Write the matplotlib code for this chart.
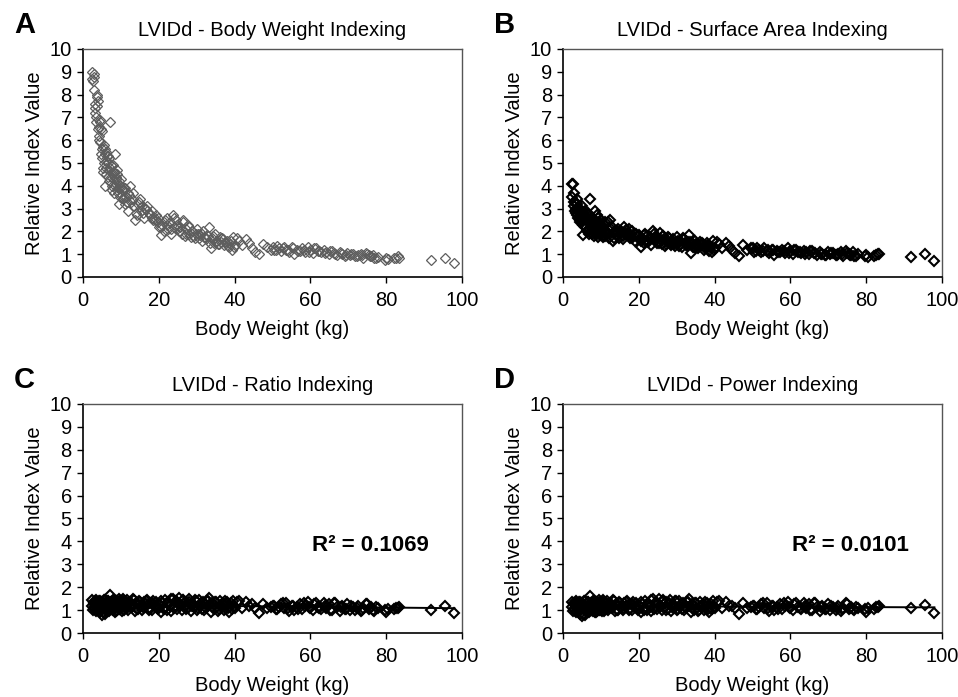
import numpy as np
import matplotlib
matplotlib.use("Agg")
from matplotlib import pyplot as plt

plt.rcParams['font.family'] = ['Liberation Sans', 'DejaVu Sans']

# body weight (kg) of each dog, shared by all four panels
WEIGHT = [
    2.3, 2.6, 2.8, 3.0, 3.1, 3.3, 3.5, 3.6, 3.8, 4.0,
    4.1, 4.3, 4.5, 4.7, 4.9, 5.0, 5.2, 5.4, 5.5, 5.7,
    5.9, 6.0, 6.2, 6.4, 6.6, 6.8, 7.0, 7.2, 7.4, 7.6,
    7.8, 8.0, 8.2, 8.4, 8.6, 8.8, 9.0, 9.2, 9.4, 9.6,
    9.8, 10.0, 10.3, 10.6, 10.9, 11.2, 11.5, 11.8, 12.1, 12.5,
    12.9, 13.3, 13.7, 14.1, 14.5, 14.9, 15.3, 15.7, 16.1, 16.5,
    16.9, 17.3, 17.7, 18.1, 18.5, 18.9, 19.3, 19.7, 20.1, 20.5,
    20.9, 21.3, 21.7, 22.1, 22.5, 22.9, 23.3, 23.7, 24.1, 24.5,
    24.9, 25.3, 25.7, 26.1, 26.5, 26.9, 27.3, 27.7, 28.1, 28.5,
    28.9, 29.3, 29.7, 30.1, 30.5, 30.9, 31.3, 31.7, 32.1, 32.5,
    32.9, 33.3, 33.7, 34.1, 34.5, 34.9, 35.3, 35.7, 36.1, 36.5,
    36.9, 37.3, 37.7, 38.1, 38.5, 38.9, 39.3, 39.7, 40.1, 40.6,
    41.2, 42.0, 43.0, 43.8, 44.5, 45.5, 46.5, 47.5, 48.5, 49.5,
    50.2, 50.9, 51.6, 52.3, 53.0, 53.7, 54.4, 55.1, 55.8, 56.5,
    57.2, 57.9, 58.6, 59.3, 60.0, 60.7, 61.4, 62.1, 62.8, 63.5,
    64.2, 64.9, 65.6, 66.3, 67.0, 67.7, 68.4, 69.1, 69.8, 70.5,
    71.2, 71.9, 72.6, 73.3, 74.0, 74.7, 75.4, 76.1, 76.8, 77.8,
    79.8, 80.0, 82.0, 83.0, 83.5, 91.8, 95.5, 98.0,
    2.5, 2.9, 3.2, 3.4, 3.7, 3.9, 4.2, 4.4, 4.6, 4.8,
    5.1, 5.3, 5.6, 5.8, 6.1, 6.3, 6.5, 6.7, 6.9, 7.1,
    7.3, 7.5, 7.7, 7.9, 8.1, 8.3, 8.5, 8.7, 8.9, 9.1,
    9.3, 9.5, 9.7, 9.9, 10.2, 10.5, 10.8, 11.1, 11.4, 11.7,
    12.0, 12.7, 13.5, 14.3, 15.1, 15.9, 16.7, 17.5, 18.3, 19.1,
    19.9, 20.7, 21.5, 22.3, 23.1, 23.9, 24.7, 25.5, 26.3, 27.1,
    27.9, 28.7, 29.5, 30.3, 31.1, 31.9, 32.7, 33.5, 34.3, 35.1,
    35.9, 36.7, 37.5, 38.3, 39.1, 39.9, 50.5, 51.3, 52.7, 54.0,
    55.4, 56.8, 58.2, 59.6, 61.0, 62.4, 63.8, 65.2, 66.6, 68.0,
    69.4, 70.8, 72.2, 73.6, 75.0, 75.7, 76.4, 77.2, 80.5, 82.5,
]

BODY_WEIGHT_IDX = [
    9.0, 8.6, 8.9, 8.75, 7.4, 7.2, 6.8, 7.9, 8.0, 7.7,
    6.0, 6.6, 6.9, 6.5, 6.4, 5.2, 5.7, 4.6, 5.8, 4.0,
    5.6, 5.5, 4.5, 5.3, 5.0, 4.7, 5.2, 6.8, 4.9, 3.8,
    4.6, 4.9, 4.3, 5.4, 4.1, 4.4, 4.7, 3.9, 4.2, 3.2,
    4.0, 4.3, 3.6, 3.8, 3.5, 3.9, 3.3, 2.9, 3.6, 4.0,
    3.4, 3.7, 2.5, 2.8, 3.2, 3.3, 2.9, 3.1, 2.6, 3.0,
    3.1, 2.8, 2.7, 2.9, 2.5, 2.6, 2.7, 2.4, 2.2, 1.85,
    2.3, 2.0, 2.5, 2.6, 2.1, 2.4, 1.9, 2.7, 2.2, 2.5,
    2.3, 2.0, 2.2, 1.9, 2.4, 1.8, 2.1, 2.3, 1.9, 1.75,
    2.0, 1.8, 1.9, 2.1, 1.7, 1.85, 1.6, 2.0, 1.75, 1.65,
    1.8, 2.2, 1.25, 1.7, 1.5, 1.9, 1.6, 1.45, 1.75, 1.55,
    1.65, 1.4, 1.5, 1.6, 1.3, 1.45, 1.2, 1.75, 1.4, 1.7,
    1.6, 1.4, 1.65, 1.5, 1.25, 1.1, 1.0, 1.45, 1.3, 1.2,
    1.3, 1.2, 1.25, 1.15, 1.3, 1.2, 1.1, 1.3, 1.0, 1.2,
    1.15, 1.25, 1.1, 1.3, 1.2, 1.05, 1.25, 1.15, 1.1, 1.2,
    1.1, 1.0, 1.15, 1.05, 0.95, 1.1, 1.0, 0.9, 1.05, 0.95,
    1.0, 0.9, 0.95, 1.0, 0.85, 1.05, 0.95, 0.9, 0.85, 0.88,
    0.75, 0.85, 0.85, 0.9, 0.85, 0.75, 0.85, 0.6,
    8.7, 8.2, 7.6, 7.0, 7.5, 6.5, 6.2, 6.8, 5.9, 5.4,
    5.6, 4.8, 5.0, 5.4, 4.8, 5.1, 4.4, 5.3, 4.2, 4.8,
    4.4, 4.9, 4.0, 4.5, 3.7, 4.6, 4.0, 4.3, 3.8, 4.5,
    3.7, 4.1, 3.5, 3.9, 3.8, 3.4, 3.9, 3.2, 3.5, 3.3,
    3.7, 3.3, 3.1, 2.7, 3.4, 2.8, 3.0, 2.8, 2.6, 2.5,
    2.6, 2.2, 2.4, 2.3, 2.1, 2.6, 2.2, 2.0, 2.5, 1.9,
    2.2, 2.0, 1.7, 1.9, 1.95, 1.75, 1.85, 1.5, 1.8, 1.6,
    1.45, 1.7, 1.55, 1.35, 1.6, 1.3, 1.2, 1.35, 1.25, 1.2,
    1.25, 1.15, 1.2, 1.1, 1.25, 1.15, 1.05, 1.15, 1.0, 1.05,
    0.95, 1.0, 0.9, 0.95, 1.0, 0.9, 0.95, 0.85, 0.8, 0.85,
]

SURFACE_AREA_IDX = [
    4.1, 4.1, 3.7, 3.1, 3.3, 3.0, 2.8, 3.4, 3.2, 2.9,
    2.6, 3.0, 2.5, 2.8, 3.1, 2.4, 2.7, 1.85, 2.3, 2.9,
    2.2, 2.6, 2.0, 2.5, 2.8, 2.1, 2.4, 3.4, 2.3, 1.9,
    2.6, 2.2, 2.5, 2.9, 2.0, 2.3, 2.7, 1.75, 2.4, 2.1,
    2.3, 2.5, 2.0, 2.2, 1.8, 2.4, 1.9, 2.1, 1.7, 2.5,
    2.2, 1.6, 2.0, 1.9, 2.1, 1.7, 2.0, 1.8, 2.2, 1.9,
    1.85, 2.1, 1.7, 2.0, 1.8, 1.6, 1.9, 1.75, 1.85, 1.3,
    1.7, 1.5, 1.9, 1.8, 1.6, 1.75, 1.4, 2.0, 1.65, 1.8,
    1.7, 1.5, 1.95, 1.45, 1.8, 1.35, 1.6, 1.75, 1.5, 1.4,
    1.65, 1.45, 1.55, 1.75, 1.35, 1.6, 1.3, 1.7, 1.5, 1.4,
    1.55, 1.85, 1.05, 1.5, 1.3, 1.6, 1.35, 1.25, 1.55, 1.4,
    1.45, 1.2, 1.35, 1.5, 1.15, 1.3, 1.1, 1.6, 1.25, 1.55,
    1.45, 1.25, 1.5, 1.35, 1.2, 1.05, 0.9, 1.4, 1.2, 1.25,
    1.25, 1.15, 1.2, 1.1, 1.25, 1.15, 1.05, 1.2, 0.95, 1.15,
    1.1, 1.2, 1.05, 1.25, 1.15, 1.0, 1.2, 1.1, 1.05, 1.15,
    1.1, 1.0, 1.15, 1.05, 0.95, 1.1, 1.0, 0.95, 1.1, 1.0,
    1.05, 0.95, 1.0, 1.1, 0.9, 1.15, 1.0, 0.95, 0.9, 1.0,
    0.9, 0.95, 0.9, 1.0, 1.0, 0.88, 1.0, 0.72,
    3.5, 3.3, 2.9, 3.2, 2.7, 2.6, 3.0, 2.4, 2.8, 2.5,
    2.9, 2.3, 2.6, 2.7, 2.2, 2.5, 2.0, 2.7, 1.9, 2.4,
    2.2, 2.6, 2.0, 2.4, 1.8, 2.5, 2.1, 2.3, 1.9, 2.6,
    2.0, 2.3, 1.85, 2.2, 2.1, 1.75, 2.3, 1.8, 2.0, 1.9,
    2.4, 2.1, 1.7, 2.0, 1.9, 1.65, 2.05, 1.85, 1.7, 1.9,
    1.8, 1.6, 1.85, 1.55, 1.7, 1.9, 1.5, 1.65, 1.8, 1.45,
    1.7, 1.5, 1.35, 1.6, 1.45, 1.65, 1.4, 1.55, 1.3, 1.45,
    1.35, 1.5, 1.25, 1.4, 1.3, 1.2, 1.1, 1.25, 1.15, 1.2,
    1.2, 1.1, 1.15, 1.05, 1.2, 1.1, 1.0, 1.15, 1.05, 1.0,
    0.95, 1.05, 0.95, 1.0, 1.05, 0.95, 1.1, 0.9, 0.88, 0.95,
]

RATIO_IDX = [
    1.45, 1.0, 1.3, 1.1, 1.4, 1.2, 0.95, 1.35, 1.15, 1.25,
    1.05, 1.4, 0.9, 1.2, 1.35, 0.8, 1.3, 1.1, 1.45, 0.85,
    1.25, 1.0, 1.35, 1.15, 1.4, 0.95, 1.2, 1.65, 1.3, 1.05,
    1.45, 1.1, 1.3, 0.9, 1.4, 1.2, 1.0, 1.35, 1.15, 1.5,
    1.05, 1.3, 0.95, 1.4, 1.2, 1.1, 1.45, 1.0, 1.25, 1.35,
    1.15, 1.5, 0.95, 1.3, 1.05, 1.4, 1.2, 1.0, 1.35, 1.25,
    1.45, 1.1, 1.3, 1.0, 1.4, 1.2, 1.35, 1.05, 1.25, 0.9,
    1.3, 1.1, 1.45, 1.0, 1.35, 1.2, 0.95, 1.5, 1.15, 1.4,
    1.05, 1.55, 1.25, 1.0, 1.45, 1.2, 1.35, 1.1, 1.5, 0.95,
    1.3, 1.15, 1.4, 1.0, 1.45, 1.2, 1.05, 1.35, 1.25, 1.1,
    1.4, 1.55, 0.9, 1.3, 1.05, 1.35, 1.15, 0.95, 1.4, 1.2,
    1.3, 1.0, 1.25, 1.35, 0.9, 1.15, 1.05, 1.4, 1.1, 1.35,
    1.4, 1.1, 1.35, 1.2, 1.25, 1.1, 0.88, 1.25, 1.1, 1.15,
    1.2, 1.05, 1.15, 1.25, 1.1, 1.3, 0.95, 1.2, 1.0, 1.15,
    1.25, 1.05, 1.2, 1.35, 1.1, 1.0, 1.3, 1.15, 1.05, 1.3,
    1.1, 1.25, 1.0, 1.3, 1.15, 0.95, 1.2, 1.05, 1.25, 1.0,
    1.15, 1.0, 1.2, 0.95, 1.1, 1.25, 1.05, 1.15, 0.95, 1.1,
    1.0, 0.92, 1.05, 1.1, 1.15, 1.0, 1.17, 0.88,
    1.2, 1.35, 1.05, 1.45, 1.15, 1.3, 1.0, 1.4, 1.1, 1.25,
    1.35, 0.9, 1.2, 1.45, 1.1, 1.3, 1.0, 1.4, 1.15, 1.25,
    1.05, 1.35, 1.2, 1.0, 1.45, 1.1, 1.3, 0.95, 1.4, 1.2,
    1.3, 1.05, 1.4, 1.15, 1.25, 1.5, 1.0, 1.35, 1.2, 1.1,
    1.3, 1.2, 1.45, 1.05, 1.35, 1.15, 1.4, 1.0, 1.3, 1.2,
    1.15, 1.4, 1.05, 1.3, 1.5, 1.1, 1.35, 1.2, 1.45, 1.05,
    1.35, 1.2, 1.45, 1.1, 1.3, 1.0, 1.4, 1.25, 1.15, 1.35,
    1.05, 1.25, 1.4, 1.1, 1.3, 1.2, 1.2, 1.05, 1.3, 1.1,
    1.2, 1.05, 1.3, 1.15, 1.25, 1.1, 1.2, 1.0, 1.3, 1.15,
    1.05, 1.2, 1.1, 1.0, 1.25, 1.1, 1.0, 1.15, 1.05, 1.1,
]

POWER_IDX = [
    1.35, 0.95, 1.25, 1.05, 1.3, 1.15, 0.9, 1.3, 1.1, 1.2,
    1.0, 1.35, 0.85, 1.15, 1.3, 0.75, 1.25, 1.05, 1.4, 0.8,
    1.2, 0.95, 1.3, 1.1, 1.35, 0.9, 1.15, 1.6, 1.25, 1.0,
    1.4, 1.05, 1.25, 0.9, 1.35, 1.15, 0.95, 1.3, 1.1, 1.45,
    1.0, 1.25, 0.95, 1.35, 1.15, 1.05, 1.4, 1.0, 1.2, 1.3,
    1.1, 1.45, 0.95, 1.25, 1.0, 1.35, 1.15, 1.0, 1.3, 1.2,
    1.4, 1.05, 1.25, 1.0, 1.35, 1.15, 1.3, 1.0, 1.2, 0.9,
    1.25, 1.05, 1.4, 1.0, 1.3, 1.15, 0.95, 1.5, 1.1, 1.35,
    1.05, 1.5, 1.2, 1.0, 1.45, 1.15, 1.35, 1.05, 1.45, 0.95,
    1.25, 1.1, 1.4, 1.0, 1.4, 1.15, 1.05, 1.3, 1.2, 1.1,
    1.35, 1.5, 0.9, 1.25, 1.0, 1.3, 1.1, 0.95, 1.35, 1.15,
    1.25, 1.0, 1.2, 1.3, 0.9, 1.1, 1.05, 1.4, 1.1, 1.35,
    1.4, 1.1, 1.35, 1.2, 1.2, 1.1, 0.85, 1.3, 1.1, 1.15,
    1.2, 1.05, 1.15, 1.25, 1.1, 1.3, 0.95, 1.2, 1.0, 1.15,
    1.25, 1.05, 1.2, 1.35, 1.1, 1.0, 1.3, 1.15, 1.05, 1.3,
    1.1, 1.25, 1.0, 1.3, 1.15, 0.95, 1.2, 1.05, 1.25, 1.0,
    1.15, 1.0, 1.2, 0.95, 1.1, 1.3, 1.05, 1.15, 1.0, 1.1,
    1.05, 0.92, 1.05, 1.15, 1.2, 1.1, 1.22, 0.88,
    1.15, 1.3, 1.0, 1.4, 1.1, 1.25, 0.95, 1.35, 1.05, 1.2,
    1.3, 0.85, 1.15, 1.4, 1.05, 1.25, 0.95, 1.35, 1.1, 1.2,
    1.0, 1.3, 1.15, 0.95, 1.4, 1.05, 1.25, 0.9, 1.35, 1.15,
    1.25, 1.0, 1.35, 1.1, 1.2, 1.45, 0.95, 1.3, 1.15, 1.05,
    1.25, 1.15, 1.4, 1.0, 1.3, 1.1, 1.35, 1.0, 1.25, 1.15,
    1.1, 1.35, 1.0, 1.25, 1.45, 1.05, 1.3, 1.15, 1.4, 1.0,
    1.3, 1.15, 1.4, 1.05, 1.25, 1.0, 1.35, 1.2, 1.1, 1.3,
    1.0, 1.2, 1.35, 1.05, 1.25, 1.15, 1.2, 1.05, 1.3, 1.1,
    1.2, 1.05, 1.3, 1.15, 1.25, 1.1, 1.2, 1.0, 1.3, 1.15,
    1.05, 1.2, 1.1, 1.05, 1.25, 1.1, 1.05, 1.15, 1.1, 1.15,
]

PANELS = [
    ("A", "LVIDd - Body Weight Indexing", BODY_WEIGHT_IDX, None),
    ("B", "LVIDd - Surface Area Indexing", SURFACE_AREA_IDX, None),
    ("C", "LVIDd - Ratio Indexing", RATIO_IDX, "R² = 0.1069"),
    ("D", "LVIDd - Power Indexing", POWER_IDX, "R² = 0.0101"),
]

# axes rectangles in figure fraction (left, bottom, width, height)
RECTS = [
    (0.0866, 0.6026, 0.3956, 0.3271),
    (0.5877, 0.6026, 0.3956, 0.3271),
    (0.0866, 0.0918, 0.3956, 0.3286),
    (0.5877, 0.0918, 0.3956, 0.3286),
]

fig = plt.figure(figsize=(9.58, 6.97), dpi=100)

for (letter, title, vals, r2), rect in zip(PANELS, RECTS):
    ax = fig.add_axes(rect)
    if letter == "A":
        ax.plot(WEIGHT, vals, 'D', ms=4.6, mfc='none', mec='#5e5e5e', mew=0.9)
    else:
        ax.plot(WEIGHT, vals, 'D', ms=4.6, mfc='none', mec='black', mew=1.5)
    if r2:
        slope, icpt = np.polyfit(WEIGHT, vals, 1)
        xs = np.array([min(WEIGHT), max(WEIGHT)])
        ax.plot(xs, slope * xs + icpt, color='black', lw=1.4)
        ax.text(60.4, 3.8, r2, fontsize=16, fontweight='bold', va='center')

    ax.set_xlim(0, 100)
    ax.set_ylim(0, 10)
    ax.set_xticks(range(0, 101, 20))
    ax.set_yticks(range(0, 11))
    ax.tick_params(direction='out', length=4, width=1, labelsize=14.5, pad=4)
    ax.tick_params(axis='x', pad=6)
    for side in ('top', 'right'):
        ax.spines[side].set_color('#555555')
        ax.spines[side].set_linewidth(1.0)
    for side in ('left', 'bottom'):
        ax.spines[side].set_linewidth(1.2)
    ax.set_title(title, fontsize=14.5, pad=9)
    ax.set_ylabel("Relative Index Value", fontsize=14.5, labelpad=4)
    ax.set_xlabel("Body Weight (kg)", fontsize=14.5, labelpad=7)

    fx = rect[0] - 0.061
    fy = rect[1] + rect[3] + 0.035
    fig.text(fx, fy, letter, fontsize=21, fontweight='bold', va='center', ha='center')

fig.savefig("out.png", dpi=100)
